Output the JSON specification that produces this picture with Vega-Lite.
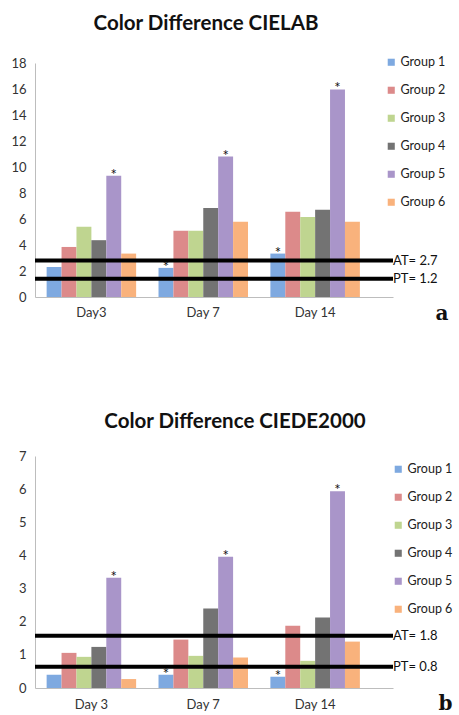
{
  "$schema": "https://vega.github.io/schema/vega-lite/v6.json",
  "padding": {"top": 13, "left": 10, "right": 0, "bottom": 0},
  "background": "white",
  "config": {
    "view": {"stroke": null},
    "font": "Lato",
    "axis": {"labelFont": "Lato", "labelColor": "#333333", "labelFontSize": 13, "grid": false, "ticks": false, "domainColor": "#bdbdbd"},
    "legend": {"labelFont": "Lato", "labelFontSize": 12.5, "labelColor": "#222222", "symbolType": "square", "symbolSize": 50, "symbolStrokeWidth": 0, "rowPadding": 15, "labelOffset": 3}
  },
  "resolve": {"legend": {"color": "independent"}, "scale": {"color": "independent"}},
  "spacing": 88,
  "vconcat": [
    {
      "width": 358,
      "height": 234,
      "title": {"text": "Color Difference CIELAB", "font": "Lato", "fontSize": 20.5, "fontWeight": "bold", "color": "#111111", "offset": 22, "dx": -8},
      "data": {"values": [
        {"day": "Day3", "group": "Group 1", "value": 2.3, "star": ""},
        {"day": "Day3", "group": "Group 2", "value": 3.85, "star": ""},
        {"day": "Day3", "group": "Group 3", "value": 5.4, "star": ""},
        {"day": "Day3", "group": "Group 4", "value": 4.37, "star": ""},
        {"day": "Day3", "group": "Group 5", "value": 9.33, "star": "*"},
        {"day": "Day3", "group": "Group 6", "value": 3.34, "star": ""},
        {"day": "Day 7", "group": "Group 1", "value": 2.24, "star": "*"},
        {"day": "Day 7", "group": "Group 2", "value": 5.09, "star": ""},
        {"day": "Day 7", "group": "Group 3", "value": 5.09, "star": ""},
        {"day": "Day 7", "group": "Group 4", "value": 6.84, "star": ""},
        {"day": "Day 7", "group": "Group 5", "value": 10.8, "star": "*"},
        {"day": "Day 7", "group": "Group 6", "value": 5.79, "star": ""},
        {"day": "Day 14", "group": "Group 1", "value": 3.34, "star": "*"},
        {"day": "Day 14", "group": "Group 2", "value": 6.56, "star": ""},
        {"day": "Day 14", "group": "Group 3", "value": 6.15, "star": ""},
        {"day": "Day 14", "group": "Group 4", "value": 6.71, "star": ""},
        {"day": "Day 14", "group": "Group 5", "value": 15.97, "star": "*"},
        {"day": "Day 14", "group": "Group 6", "value": 5.79, "star": ""}
      ]},
      "encoding": {
        "x": {"field": "day", "type": "nominal", "sort": ["Day3", "Day 7", "Day 14"],
          "scale": {"paddingInner": 0.2, "paddingOuter": 0.2, "align": 0.26},
          "axis": {"labelAngle": 0, "labelPadding": 9, "title": "a", "titleFont": "DejaVu Serif", "titleFontSize": 20, "titleFontWeight": "bold", "titleColor": "#111111", "titleX": 400, "titleY": 22, "titleAnchor": "start", "titleAlign": "left", "titleBaseline": "alphabetic"}},
        "xOffset": {"field": "group", "type": "nominal", "scale": {"paddingInner": 0, "paddingOuter": 0}},
        "y": {"field": "value", "type": "quantitative", "scale": {"domain": [0, 18], "nice": false},
          "axis": {"title": null, "values": [0, 2, 4, 6, 8, 10, 12, 14, 16, 18], "labelPadding": 9}}
      },
      "layer": [
        {
          "mark": {"type": "bar"},
          "encoding": {
            "color": {"field": "group", "type": "nominal",
              "scale": {"domain": ["Group 1", "Group 2", "Group 3", "Group 4", "Group 5", "Group 6"], "range": ["#7ea9e0", "#dc8a8a", "#bfd590", "#737373", "#a995c9", "#f9b27c"]},
              "legend": {"title": null, "orient": "none", "legendX": 350, "legendY": -7}}
          }
        },
        {
          "mark": {"type": "text", "fontSize": 15, "baseline": "alphabetic", "dy": 4, "color": "#111111"},
          "encoding": {"text": {"field": "star"}}
        },
        {
          "data": {"values": [{"label": "AT= 2.7", "v": 2.8}, {"label": "PT= 1.2", "v": 1.4}]},
          "layer": [
            {"mark": {"type": "rule", "strokeWidth": 4, "color": "#000000"},
             "encoding": {"y": {"field": "v", "type": "quantitative"}, "x": null, "xOffset": null}},
            {"mark": {"type": "text", "align": "left", "baseline": "middle", "fontSize": 13, "dx": 0, "color": "#111111", "font": "Lato"},
             "encoding": {"y": {"field": "v", "type": "quantitative"}, "x": {"value": "width"}, "xOffset": null, "text": {"field": "label"}}}
          ]
        }
      ]
    },
    {
      "width": 358,
      "height": 232,
      "title": {"text": "Color Difference CIEDE2000", "font": "Lato", "fontSize": 20.5, "fontWeight": "bold", "color": "#111111", "offset": 18, "dx": 21},
      "data": {"values": [
        {"day": "Day 3", "group": "Group 1", "value": 0.4, "star": ""},
        {"day": "Day 3", "group": "Group 2", "value": 1.06, "star": ""},
        {"day": "Day 3", "group": "Group 3", "value": 0.94, "star": ""},
        {"day": "Day 3", "group": "Group 4", "value": 1.24, "star": ""},
        {"day": "Day 3", "group": "Group 5", "value": 3.33, "star": "*"},
        {"day": "Day 3", "group": "Group 6", "value": 0.27, "star": ""},
        {"day": "Day 7", "group": "Group 1", "value": 0.4, "star": "*"},
        {"day": "Day 7", "group": "Group 2", "value": 1.46, "star": ""},
        {"day": "Day 7", "group": "Group 3", "value": 0.97, "star": ""},
        {"day": "Day 7", "group": "Group 4", "value": 2.4, "star": ""},
        {"day": "Day 7", "group": "Group 5", "value": 3.96, "star": "*"},
        {"day": "Day 7", "group": "Group 6", "value": 0.92, "star": ""},
        {"day": "Day 14", "group": "Group 1", "value": 0.34, "star": "*"},
        {"day": "Day 14", "group": "Group 2", "value": 1.88, "star": ""},
        {"day": "Day 14", "group": "Group 3", "value": 0.82, "star": ""},
        {"day": "Day 14", "group": "Group 4", "value": 2.13, "star": ""},
        {"day": "Day 14", "group": "Group 5", "value": 5.94, "star": "*"},
        {"day": "Day 14", "group": "Group 6", "value": 1.4, "star": ""}
      ]},
      "encoding": {
        "x": {"field": "day", "type": "nominal", "sort": ["Day 3", "Day 7", "Day 14"],
          "scale": {"paddingInner": 0.2, "paddingOuter": 0.2, "align": 0.26},
          "axis": {"labelAngle": 0, "labelPadding": 10, "title": "b", "titleFont": "DejaVu Serif", "titleFontSize": 20, "titleFontWeight": "bold", "titleColor": "#111111", "titleX": 403, "titleY": 21, "titleAnchor": "start", "titleAlign": "left", "titleBaseline": "alphabetic"}},
        "xOffset": {"field": "group", "type": "nominal", "scale": {"paddingInner": 0, "paddingOuter": 0}},
        "y": {"field": "value", "type": "quantitative", "scale": {"domain": [0, 7], "nice": false},
          "axis": {"title": null, "values": [0, 1, 2, 3, 4, 5, 6, 7], "labelPadding": 9}}
      },
      "layer": [
        {
          "mark": {"type": "bar"},
          "encoding": {
            "color": {"field": "group", "type": "nominal",
              "scale": {"domain": ["Group 1", "Group 2", "Group 3", "Group 4", "Group 5", "Group 6"], "range": ["#7ea9e0", "#dc8a8a", "#bfd590", "#737373", "#a995c9", "#f9b27c"]},
              "legend": {"title": null, "orient": "none", "legendX": 357, "legendY": 7}}
          }
        },
        {
          "mark": {"type": "text", "fontSize": 15, "baseline": "alphabetic", "dy": 4, "color": "#111111"},
          "encoding": {"text": {"field": "star"}}
        },
        {
          "data": {"values": [{"label": "AT= 1.8", "v": 1.58}, {"label": "PT= 0.8", "v": 0.64}]},
          "layer": [
            {"mark": {"type": "rule", "strokeWidth": 4, "color": "#000000"},
             "encoding": {"y": {"field": "v", "type": "quantitative"}, "x": null, "xOffset": null}},
            {"mark": {"type": "text", "align": "left", "baseline": "middle", "fontSize": 13, "dx": 0, "color": "#111111", "font": "Lato"},
             "encoding": {"y": {"field": "v", "type": "quantitative"}, "x": {"value": "width"}, "xOffset": null, "text": {"field": "label"}}}
          ]
        }
      ]
    }
  ]
}
